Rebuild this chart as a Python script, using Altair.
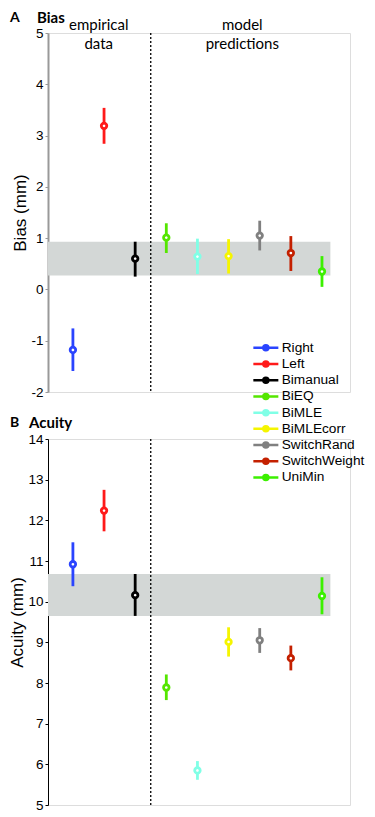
import altair as alt
import pandas as pd

models = ["Right", "Left", "Bimanual", "BiEQ", "BiMLE", "BiMLEcorr", "SwitchRand", "SwitchWeight", "UniMin"]
xpos = [1, 2, 3, 4, 5, 6, 7, 8, 9]
colors = ["#2a44ff", "#ff1a1a", "#000000", "#55e600", "#80ffe6", "#f5f500", "#808080", "#c42000", "#3cf000"]

bias_mean = [-1.18, 3.19, 0.60, 1.01, 0.64, 0.65, 1.05, 0.71, 0.35]
bias_lo = [-1.59, 2.84, 0.25, 0.71, 0.30, 0.31, 0.76, 0.36, 0.05]
bias_hi = [-0.76, 3.54, 0.93, 1.29, 0.99, 0.98, 1.34, 1.04, 0.65]

acuity_mean = [10.92, 12.24, 10.16, 7.89, 5.85, 9.01, 9.05, 8.61, 10.14]
acuity_lo = [10.38, 11.73, 9.65, 7.58, 5.62, 8.65, 8.74, 8.31, 9.69]
acuity_hi = [11.46, 12.75, 10.68, 8.21, 6.08, 9.37, 9.35, 8.92, 10.60]

bias_band = [0.27, 0.93]
acuity_band = [9.65, 10.68]
band_x = [0.2, 9.27]
divider_x = [3.5]

bias_ticks = [-2, -1, 0, 1, 2, 3, 4, 5]
acuity_ticks = [5, 6, 7, 8, 9, 10, 11, 12, 13, 14]

note_lines = ["empirical", "data", "model", "predictions"]
notes_x = [1.83, 1.83, 6.44, 6.44]
notes_y = [5.16, 4.79, 5.16, 4.79]

W = 302
XDOM = [0.2, 9.9]

legend_path = "M-2.5,0H2.5M-0.5,0A0.5,0.5 0 1,0 0.5,0A0.5,0.5 0 1,0 -0.5,0"


def panel(mean, lo, hi, band, ydom, ticks, title_txt, letter, ytitle, axis_color, axis_width,
          show_legend, height, head_y, title_dx):
    df = pd.DataFrame({"model": models, "x": xpos, "m": mean, "lo": lo, "hi": hi})
    xs = alt.Scale(domain=XDOM, nice=False, zero=False)
    ys = alt.Scale(domain=ydom, nice=False, zero=False)
    if show_legend:
        leg = alt.Legend(
            title=None, orient="none", legendX=211, legendY=308, symbolType=legend_path,
            symbolSize=100, symbolStrokeWidth=2.5, labelFont="Liberation Sans", labelFontSize=13.7,
            labelColor="black", labelOffset=9, rowPadding=0.2, padding=0, symbolFillColor="white",
        )
    else:
        leg = None
    col = alt.Color("model:N", scale=alt.Scale(domain=models, range=colors), sort=models, legend=leg)

    band_df = pd.DataFrame({"x0": [band_x[0]], "x1": [band_x[1]], "y0": [band[0]], "y1": [band[1]]})
    band_layer = alt.Chart(band_df).mark_rect(color="#d3d7d6").encode(
        x=alt.X("x0:Q", scale=xs, axis=None), x2="x1:Q",
        y=alt.Y("y0:Q", scale=ys, axis=alt.Axis(
            values=ticks, labelExpr="datum.value + ''", title=ytitle, grid=False,
            domainColor=axis_color, domainWidth=axis_width, tickColor=axis_color, tickSize=3,
            tickWidth=1, labelColor="black", labelFont="Liberation Sans", labelFontSize=13.5,
            labelPadding=2, titleFont="Liberation Sans", titleFontSize=17, titleFontWeight="normal",
            titleColor="black", titlePadding=1)),
        y2="y1:Q",
    )
    div = alt.Chart(pd.DataFrame({"x": divider_x})).mark_rule(
        color="black", strokeDash=[2, 2], strokeWidth=1.3).encode(x=alt.X("x:Q", scale=xs))
    err = alt.Chart(df).mark_rule(strokeWidth=2.8).encode(
        x=alt.X("x:Q", scale=xs), y=alt.Y("lo:Q", scale=ys), y2="hi:Q", color=col)
    pts = alt.Chart(df).mark_point(shape="circle", filled=False, fill="white", fillOpacity=1,
                                   size=30, strokeWidth=2.8, opacity=1).encode(
        x=alt.X("x:Q", scale=xs), y=alt.Y("m:Q", scale=ys), color=col)
    lett = alt.Chart(pd.DataFrame({"t": [letter]})).mark_text(
        font="Lato", fontWeight="bold", fontSize=14, align="left", baseline="middle", color="black").encode(
        text="t:N", x=alt.value(-38), y=alt.value(head_y))
    ttl = alt.Chart(pd.DataFrame({"t": [title_txt]})).mark_text(
        font="Lato", fontWeight="bold", fontSize=15, align="left", baseline="middle", color="black").encode(
        text="t:N", x=alt.value(title_dx), y=alt.value(head_y))
    layers = [band_layer, div, err, pts, lett, ttl]
    if show_legend:
        ndf = pd.DataFrame({"t": note_lines, "x": notes_x, "y": notes_y})
        ntxt = alt.Chart(ndf).mark_text(font="Lato", fontSize=15, align="center", baseline="middle",
                                        color="black").encode(
            text="t:N", x=alt.X("x:Q", scale=xs), y=alt.Y("y:Q", scale=ys))
        layers.append(ntxt)
    return alt.layer(*layers).properties(width=W, height=height)


top = panel(bias_mean, bias_lo, bias_hi, bias_band, [-2, 5], bias_ticks, "Bias", "A", "Bias (mm)",
            "#999999", 2, True, 359, -15, -11)
bottom = panel(acuity_mean, acuity_lo, acuity_hi, acuity_band, [5, 14], acuity_ticks, "Acuity", "B",
               "Acuity (mm)", "black", 1, False, 366, -16, -19)

chart = alt.vconcat(top, bottom, spacing=47, bounds="flush").resolve_scale(color="shared").properties(
    padding={"top": 2, "left": 0, "right": 0, "bottom": 0}).configure_view(stroke=None).configure(
    font="Liberation Sans")

chart.save("out.html", embed_options={"renderer": "svg", "actions": False})
